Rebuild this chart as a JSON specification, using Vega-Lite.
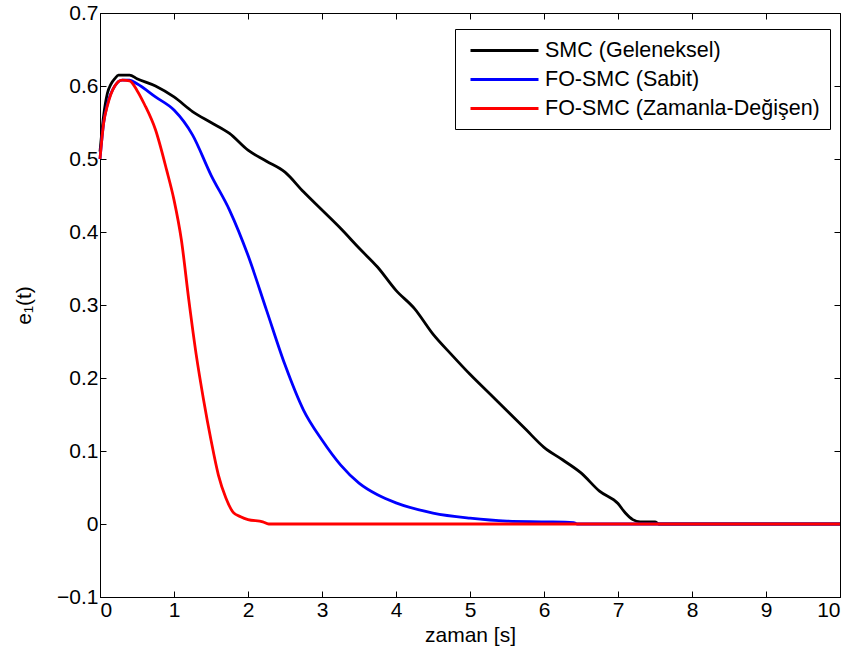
{
  "$schema": "https://vega.github.io/schema/vega-lite/v6.json",
  "autosize": "none",
  "width": 740,
  "height": 584,
  "padding": {"left": 100, "top": 13, "right": 19, "bottom": 70},
  "background": "white",
  "config": {
    "view": {"stroke": "black", "strokeWidth": 1},
    "font": "Liberation Sans",
    "axis": {
      "labelFont": "Liberation Sans", "labelFontSize": 21, "labelColor": "black",
      "titleFont": "Liberation Sans", "titleFontSize": 21, "titleColor": "black", "titleFontWeight": "normal",
      "grid": false, "domainColor": "black", "tickColor": "black", "tickSize": -6, "labelPadding": 8, "labelOverlap": false
    }
  },
  "data": {"values": [
    {"t": 0, "e": 0.51, "s": "SMC (Geleneksel)"},
    {"t": 0.05, "e": 0.56, "s": "SMC (Geleneksel)"},
    {"t": 0.1, "e": 0.59, "s": "SMC (Geleneksel)"},
    {"t": 0.15, "e": 0.603, "s": "SMC (Geleneksel)"},
    {"t": 0.2, "e": 0.61, "s": "SMC (Geleneksel)"},
    {"t": 0.25, "e": 0.615, "s": "SMC (Geleneksel)"},
    {"t": 0.4, "e": 0.615, "s": "SMC (Geleneksel)"},
    {"t": 0.5, "e": 0.61, "s": "SMC (Geleneksel)"},
    {"t": 0.75, "e": 0.6, "s": "SMC (Geleneksel)"},
    {"t": 1.0, "e": 0.585, "s": "SMC (Geleneksel)"},
    {"t": 1.25, "e": 0.565, "s": "SMC (Geleneksel)"},
    {"t": 1.5, "e": 0.55, "s": "SMC (Geleneksel)"},
    {"t": 1.75, "e": 0.535, "s": "SMC (Geleneksel)"},
    {"t": 2.0, "e": 0.512, "s": "SMC (Geleneksel)"},
    {"t": 2.25, "e": 0.497, "s": "SMC (Geleneksel)"},
    {"t": 2.5, "e": 0.482, "s": "SMC (Geleneksel)"},
    {"t": 2.75, "e": 0.455, "s": "SMC (Geleneksel)"},
    {"t": 3.0, "e": 0.43, "s": "SMC (Geleneksel)"},
    {"t": 3.25, "e": 0.405, "s": "SMC (Geleneksel)"},
    {"t": 3.5, "e": 0.378, "s": "SMC (Geleneksel)"},
    {"t": 3.75, "e": 0.352, "s": "SMC (Geleneksel)"},
    {"t": 4.0, "e": 0.32, "s": "SMC (Geleneksel)"},
    {"t": 4.25, "e": 0.295, "s": "SMC (Geleneksel)"},
    {"t": 4.5, "e": 0.26, "s": "SMC (Geleneksel)"},
    {"t": 4.75, "e": 0.232, "s": "SMC (Geleneksel)"},
    {"t": 5.0, "e": 0.205, "s": "SMC (Geleneksel)"},
    {"t": 5.25, "e": 0.18, "s": "SMC (Geleneksel)"},
    {"t": 5.5, "e": 0.155, "s": "SMC (Geleneksel)"},
    {"t": 5.75, "e": 0.13, "s": "SMC (Geleneksel)"},
    {"t": 6.0, "e": 0.105, "s": "SMC (Geleneksel)"},
    {"t": 6.25, "e": 0.088, "s": "SMC (Geleneksel)"},
    {"t": 6.5, "e": 0.07, "s": "SMC (Geleneksel)"},
    {"t": 6.75, "e": 0.045, "s": "SMC (Geleneksel)"},
    {"t": 7.0, "e": 0.028, "s": "SMC (Geleneksel)"},
    {"t": 7.1, "e": 0.015, "s": "SMC (Geleneksel)"},
    {"t": 7.2, "e": 0.006, "s": "SMC (Geleneksel)"},
    {"t": 7.3, "e": 0.003, "s": "SMC (Geleneksel)"},
    {"t": 7.5, "e": 0.003, "s": "SMC (Geleneksel)"},
    {"t": 7.55, "e": 0, "s": "SMC (Geleneksel)"},
    {"t": 10, "e": 0, "s": "SMC (Geleneksel)"},

    {"t": 0, "e": 0.5, "s": "FO-SMC (Sabit)"},
    {"t": 0.05, "e": 0.55, "s": "FO-SMC (Sabit)"},
    {"t": 0.1, "e": 0.575, "s": "FO-SMC (Sabit)"},
    {"t": 0.2, "e": 0.6, "s": "FO-SMC (Sabit)"},
    {"t": 0.3, "e": 0.608, "s": "FO-SMC (Sabit)"},
    {"t": 0.4, "e": 0.608, "s": "FO-SMC (Sabit)"},
    {"t": 0.5, "e": 0.603, "s": "FO-SMC (Sabit)"},
    {"t": 0.75, "e": 0.585, "s": "FO-SMC (Sabit)"},
    {"t": 1.0, "e": 0.567, "s": "FO-SMC (Sabit)"},
    {"t": 1.25, "e": 0.533, "s": "FO-SMC (Sabit)"},
    {"t": 1.5, "e": 0.478, "s": "FO-SMC (Sabit)"},
    {"t": 1.75, "e": 0.43, "s": "FO-SMC (Sabit)"},
    {"t": 2.0, "e": 0.368, "s": "FO-SMC (Sabit)"},
    {"t": 2.25, "e": 0.293, "s": "FO-SMC (Sabit)"},
    {"t": 2.5, "e": 0.218, "s": "FO-SMC (Sabit)"},
    {"t": 2.75, "e": 0.156, "s": "FO-SMC (Sabit)"},
    {"t": 3.0, "e": 0.115, "s": "FO-SMC (Sabit)"},
    {"t": 3.25, "e": 0.081, "s": "FO-SMC (Sabit)"},
    {"t": 3.5, "e": 0.056, "s": "FO-SMC (Sabit)"},
    {"t": 3.75, "e": 0.04, "s": "FO-SMC (Sabit)"},
    {"t": 4.0, "e": 0.029, "s": "FO-SMC (Sabit)"},
    {"t": 4.5, "e": 0.015, "s": "FO-SMC (Sabit)"},
    {"t": 5.0, "e": 0.008, "s": "FO-SMC (Sabit)"},
    {"t": 5.5, "e": 0.004, "s": "FO-SMC (Sabit)"},
    {"t": 6.0, "e": 0.003, "s": "FO-SMC (Sabit)"},
    {"t": 6.4, "e": 0.002, "s": "FO-SMC (Sabit)"},
    {"t": 6.45, "e": 0, "s": "FO-SMC (Sabit)"},
    {"t": 10, "e": 0, "s": "FO-SMC (Sabit)"},

    {"t": 0, "e": 0.5, "s": "FO-SMC (Zamanla-Değişen)"},
    {"t": 0.05, "e": 0.55, "s": "FO-SMC (Zamanla-Değişen)"},
    {"t": 0.1, "e": 0.573, "s": "FO-SMC (Zamanla-Değişen)"},
    {"t": 0.2, "e": 0.6, "s": "FO-SMC (Zamanla-Değişen)"},
    {"t": 0.3, "e": 0.608, "s": "FO-SMC (Zamanla-Değişen)"},
    {"t": 0.4, "e": 0.607, "s": "FO-SMC (Zamanla-Değişen)"},
    {"t": 0.5, "e": 0.594, "s": "FO-SMC (Zamanla-Değişen)"},
    {"t": 0.6, "e": 0.575, "s": "FO-SMC (Zamanla-Değişen)"},
    {"t": 0.75, "e": 0.54, "s": "FO-SMC (Zamanla-Değişen)"},
    {"t": 0.9, "e": 0.485, "s": "FO-SMC (Zamanla-Değişen)"},
    {"t": 1.0, "e": 0.444, "s": "FO-SMC (Zamanla-Değişen)"},
    {"t": 1.1, "e": 0.389, "s": "FO-SMC (Zamanla-Değişen)"},
    {"t": 1.2, "e": 0.307, "s": "FO-SMC (Zamanla-Değişen)"},
    {"t": 1.3, "e": 0.232, "s": "FO-SMC (Zamanla-Değişen)"},
    {"t": 1.4, "e": 0.17, "s": "FO-SMC (Zamanla-Değişen)"},
    {"t": 1.5, "e": 0.115, "s": "FO-SMC (Zamanla-Değişen)"},
    {"t": 1.6, "e": 0.067, "s": "FO-SMC (Zamanla-Değişen)"},
    {"t": 1.7, "e": 0.036, "s": "FO-SMC (Zamanla-Değişen)"},
    {"t": 1.8, "e": 0.016, "s": "FO-SMC (Zamanla-Değişen)"},
    {"t": 1.9, "e": 0.01, "s": "FO-SMC (Zamanla-Değişen)"},
    {"t": 2.0, "e": 0.006, "s": "FO-SMC (Zamanla-Değişen)"},
    {"t": 2.2, "e": 0.003, "s": "FO-SMC (Zamanla-Değişen)"},
    {"t": 2.28, "e": 0, "s": "FO-SMC (Zamanla-Değişen)"},
    {"t": 10, "e": 0, "s": "FO-SMC (Zamanla-Değişen)"}
  ]},
  "layer": [
    {
      "mark": {"type": "line", "strokeWidth": 2.8, "interpolate": "monotone"},
      "encoding": {
        "x": {"field": "t", "type": "quantitative", "scale": {"domain": [0, 10], "nice": false}, "axis": {"title": "zaman [s]", "values": [0,1,2,3,4,5,6,7,8,9,10], "titlePadding": 4}},
        "y": {"field": "e", "type": "quantitative", "scale": {"domain": [-0.1, 0.7], "nice": false, "zero": false}, "axis": {"title": "e₁(t)", "values": [-0.1,0,0.1,0.2,0.3,0.4,0.5,0.6,0.7], "format": "~g", "titlePadding": 22}},
        "color": {"field": "s", "type": "nominal", "sort": null,
          "scale": {"domain": ["SMC (Geleneksel)", "FO-SMC (Sabit)", "FO-SMC (Zamanla-Değişen)"], "range": ["black", "blue", "red"]},
          "legend": {"title": null, "orient": "none", "legendX": 355, "legendY": 16, "symbolType": "M-3.4,0H3.4", "symbolSize": 400, "symbolStrokeWidth": 2.8, "symbolOffset": 28, "labelOffset": 29, "labelFontSize": 21.5, "labelFont": "Liberation Sans", "labelColor": "black", "strokeColor": "black", "fillColor": "white", "padding": 10, "rowPadding": 7, "labelLimit": 400}}
      }
    },
    {
      "mark": {"type": "rule", "opacity": 0},
      "encoding": {
        "x": {"field": "t", "type": "quantitative", "axis": {"orient": "top", "labels": false, "title": null, "values": [0,1,2,3,4,5,6,7,8,9,10], "domain": false}},
        "y": {"field": "e", "type": "quantitative", "axis": {"orient": "right", "labels": false, "title": null, "values": [-0.1,0,0.1,0.2,0.3,0.4,0.5,0.6,0.7], "domain": false}}
      }
    }
  ],
  "resolve": {"axis": {"x": "independent", "y": "independent"}}
}
